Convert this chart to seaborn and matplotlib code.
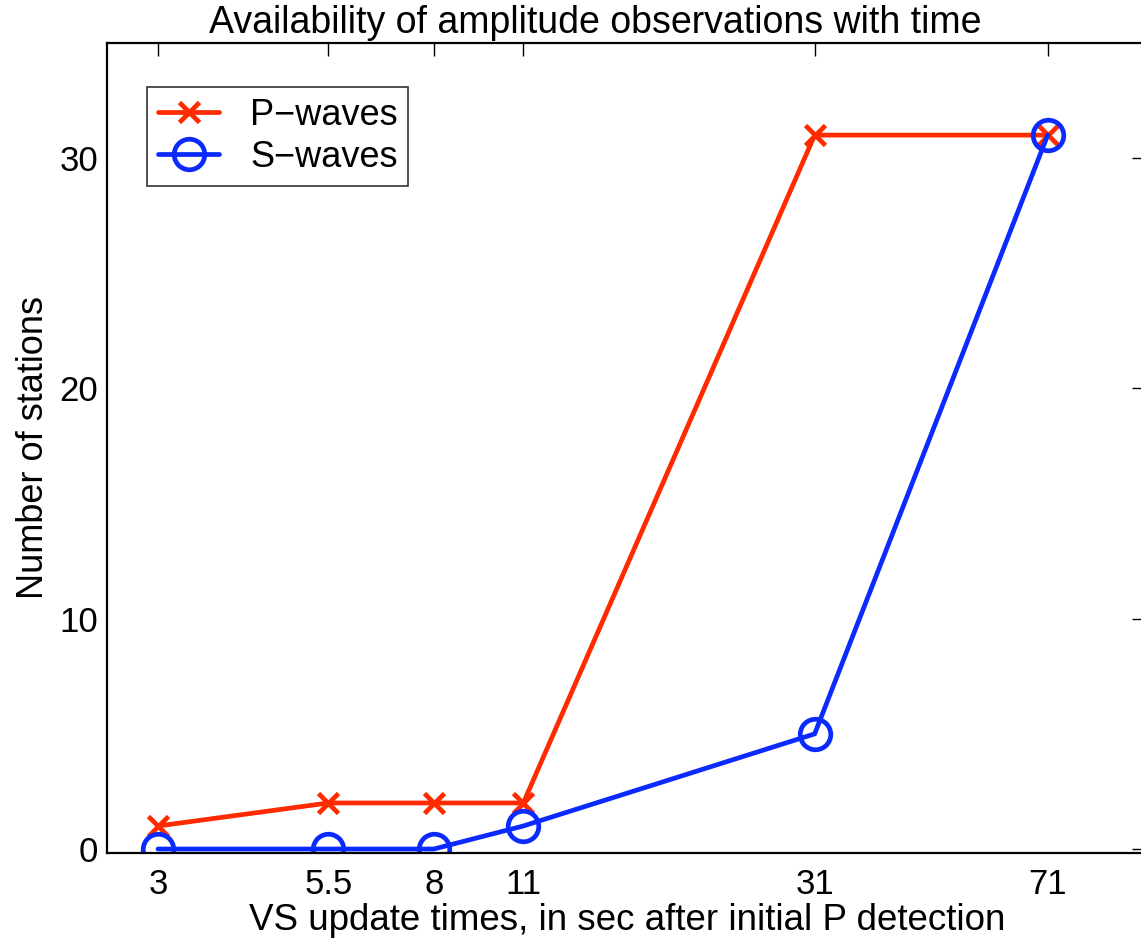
import matplotlib
matplotlib.use("Agg")
import matplotlib.pyplot as plt
import seaborn as sns
import pandas as pd
from matplotlib.ticker import FixedLocator, FixedFormatter, NullLocator

times = [3, 5.5, 8, 11, 31, 71]
tick_labels = ["3", "5.5", "8", "11", "31", "71"]
p_waves = [1, 2, 2, 2, 31, 31]
s_waves = [0, 0, 0, 1, 5, 31]

sns.set_style("white")
plt.rcParams["font.family"] = ["Liberation Sans", "DejaVu Sans"]
plt.rcParams["text.color"] = "black"
plt.rcParams["axes.labelcolor"] = "black"
plt.rcParams["xtick.color"] = "black"
plt.rcParams["ytick.color"] = "black"

fig = plt.figure(figsize=(11.41, 9.40), dpi=100)
W, H = 1141, 940
left, right, top, bottom = 106.7, 1144, 43, 852.7
ax = fig.add_axes([left / W, 1 - bottom / H, (right - left) / W, (bottom - top) / H])

df_p = pd.DataFrame({"t": times, "n": p_waves})
df_s = pd.DataFrame({"t": times, "n": s_waves})

red = "#ff2a00"
blue = "#0a2aff"
sns.lineplot(data=df_p, x="t", y="n", ax=ax, color=red, linewidth=3.4,
             marker="x", markersize=15, markeredgewidth=3.4, markeredgecolor=red,
             label="P\u2212waves")
sns.lineplot(data=df_s, x="t", y="n", ax=ax, color=blue, linewidth=3.4,
             marker="o", markersize=22, markeredgewidth=3.4, markerfacecolor="none",
             markeredgecolor=blue, label="S\u2212waves")

ax.set_xscale("log")
ax.set_xlim(2.5, 100)
ax.set_ylim(-0.16, 35)
ax.xaxis.set_major_locator(FixedLocator(times))
ax.xaxis.set_major_formatter(FixedFormatter(tick_labels))
ax.xaxis.set_minor_locator(NullLocator())
ax.set_yticks([0, 10, 20, 30])
ax.tick_params(direction="in", length=9, width=1, top=True, right=True,
               labelsize=25, colors="black")
ax.tick_params(axis="y", pad=6)
ax.tick_params(axis="x", pad=11)
for s in ax.spines.values():
    s.set_linewidth(1.6)
    s.set_color("black")

ax.set_title("Availability of amplitude observations with time", fontsize=27, pad=7,
             x=(595 - left) / (right - left))
ax.set_xlabel("VS update times, in sec after initial P detection", fontsize=26.5)
ax.xaxis.label.set_va("baseline")
ax.xaxis.set_label_coords(627 / W, 1 - 930 / H, transform=fig.transFigure)
ax.set_ylabel("Number of stations", fontsize=26, labelpad=6)

leg = ax.legend(loc="upper left", bbox_to_anchor=((147 - left) / (right - left), 1 - (87 - top) / (bottom - top)),
                fontsize=26, frameon=True, fancybox=False, edgecolor="black",
                handlelength=1.7, borderpad=0.3, labelspacing=0.2, handletextpad=0.85,
                borderaxespad=0)
leg.get_frame().set_linewidth(1.2)

fig.savefig("out.png", dpi=100, facecolor="white")
